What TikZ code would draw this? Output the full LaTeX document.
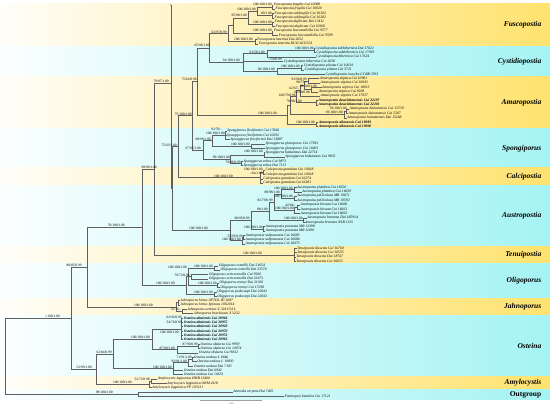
\documentclass[tikz,border=0pt]{standalone}
\usepackage{fontspec}
\setmainfont{Liberation Serif}
\usepackage{tikz}
\usetikzlibrary{arrows.meta}
\definecolor{ybar}{RGB}{255,226,110}
\definecolor{cbar}{RGB}{165,243,243}
\definecolor{brgray}{RGB}{95,95,95}
\tikzset{
  branch/.style={draw=brgray, line width=0.4pt},
  tx/.style={anchor=west, inner sep=0.4pt, font=\fontsize{3.7}{4}\selectfont\itshape},
  txb/.style={anchor=west, inner sep=0.4pt, font=\fontsize{3.7}{4}\selectfont\bfseries\itshape},
  sup/.style={anchor=base east, inner sep=0.2pt, yshift=-1.2pt, font=\fontsize{3.5}{4}\selectfont},
  clade/.style={anchor=east, inner sep=0pt, font=\fontsize{7.5}{8}\selectfont\bfseries\itshape}
}

\begin{document}
\begin{tikzpicture}[x=1pt, y=-1pt]
  \useasboundingbox (0,0) rectangle (550,407);
  % clade bands
  \foreach \a/\b/\c/\nm [count=\k] in {3.3/46.0/ybar/Fuscopostia, 46.0/76.5/cbar/Cystidiopostia,
      76.5/128.7/ybar/Amaropostia, 128.7/167.8/cbar/Spongiporus, 167.8/185.2/ybar/Calcipostia,
      185.2/246.1/cbar/Austropostia, 246.1/263.5/ybar/Tenuipostia, 263.5/298.3/cbar/Oligoporus,
      298.3/315.7/ybar/Jahnoporus, 315.7/376.6/cbar/Osteina, 376.6/389.7/ybar/Amylocystis}{
    \shade[left color=\c!4, right color=\c] (0,\a) rectangle (550,\b);
    \node[clade] (g\k) at (541.5,{(\a+\b)/2}) {\nm};
  }
  \shade[left color=cbar!4, right color=cbar] (0,389.7) rectangle (550,399.5);
  \node[clade, font=\fontsize{7.5}{8}\selectfont\bfseries] (g12) at (541.5,394.6) {Outgroup};

  % internal nodes
  \foreach \n/\x/\y in {fr/272/6.875, sf/272/15.575, fs/257/11.225, du/272.5/24.275,
      f95/247.7/17.75, le/272/32.975, fx/233/25.36, la/255/41.675, fu/228/33.52,
      sh/314/50.375, c1/266.7/53.64, pi/301/67.775, c96/277.5/71.04, c0/242.7/62.34, n65/209/47.93,
      st1/308/80.825, st2/311/89.525, st3/304/85.175, st4/300/90.61, dw/316.5/102.575,
      am1/296/96.59, h1/346/111.275, hn/344/114.54, am2/290/105.565, ai/316.5/124.325,
      am/286.7/114.945, n75a/196.7/81.44,
      fl/225.5/135.2, gl/251/146.075, s98/212/140.64, ba/264/154.775, ze/241.5/163.475,
      s99/230.5/159.125, s67/202.7/149.88, n75b/191.7/115.66,
      ca1/263.5/172.175, ca/260/177.61, n63/177.7/146.635,
      pl/294/189.575, pe/294.5/198.275, pp/281/193.925, hi1/297/206.975, hi/294.5/210.24,
      ph/274/202.08, bu/303.5/220.025, ab/269/211.05, pu/263.5/228.725, ac/251/219.89,
      sp1/243.5/237.425, sp/242/240.69, au/230/230.29, n63b/172.3/188.46,
      n79/170.7/83, tp/170.7/4.2, te/294/254.825, n98/154.3/168.91,
      ro/214.5/267.875, se/191/276.575, re/217/285.275, ros/188.5/276.575, po/214/293.975,
      ol/186/285.275, n70/141.7/227.09,
      jh/178.5/302.675, jo/182/311.375, ja/176/307.025, n80/86.7/267.06,
      al/181.5/328.775, ob1/198.5/346.175, ob/177/349.44, oa/151.7/339.11,
      un1/192.5/359.225, un2/188/362.49, un/173/368.47, os/112.7/353.79,
      ay1/151/380.975, ay/149/384.24, n52/95.7/369.015, ing/71/318.04,
      og/138/394.025, root/4.7/356.03}{
    \coordinate (\n) at (\x,\y);
  }

  % branches between internal nodes
  \foreach \p/\c in {fs/fr, fs/sf, f95/fs, f95/du, fx/f95, fx/le, fu/fx, fu/la,
      c1/sh, c96/pi, c0/c1, c0/c96, n65/fu, n65/c0,
      st3/st1, st3/st2, st4/st3, am1/st4, am1/dw, hn/h1, am2/am1, am2/hn, am/am2, am/ai,
      n75a/n65, n75a/am, s98/fl, s98/gl, s99/ba, s99/ze, s67/s98, s67/s99,
      n75b/n75a, n75b/s67, ca/ca1, n63/n75b, n63/ca,
      pp/pl, pp/pe, hi/hi1, ph/pp, ph/hi, ab/ph, ab/bu, ac/ab, ac/pu, sp/sp1,
      au/ac, au/sp, n63b/n63, n63b/au, n79/n63b, n98/n79, n98/te,
      ros/ro, ros/se, ros/re, ol/ros, ol/po, n70/n98, n70/ol,
      ja/jh, ja/jo, n80/n70, n80/ja,
      ob/ob1, oa/al, oa/ob, un2/un1, un/un2, os/oa, os/un, ay/ay1,
      n52/os, n52/ay, ing/n80, ing/n52, root/ing, root/og}{
    \draw[branch] (\p) |- (\c);
  }
  \draw[branch, -{Stealth[length=1.3pt, width=1.2pt]}] (n79) -- (tp);

  % terminals
  \foreach \i/\p/\x/\st/\nm in {
      1/fr/273.3/tx/{Fuscopostia fragilis Cui 10088}, 2/fr/275/tx/{Fuscopostia fragilis Cui 10020},
      3/sf/274/tx/{Fuscopostia subfragilis Cui 16302}, 4/sf/274/tx/{Fuscopostia subfragilis Cui 16282},
      5/du/274/tx/{Fuscopostia duplicata Dai 13411}, 6/du/275/tx/{Fuscopostia duplicata Cui 10366},
      7/le/273.3/tx/{Fuscopostia leucomallella Cui 9577}, 8/le/278.3/tx/{Fuscopostia leucomallella Cui 9599},
      9/la/256.7/tx/{Fuscopostia lateritia Dai 2652}, 10/la/258.3/tx/{Fuscopostia lateritia KUO-0211531},
      11/sh/315/tx/{Cystidiopostia subhibernica Dai 17621}, 12/sh/315.7/tx/{Cystidiopostia subhibernica Cui 17095},
      13/c1/315.7/tx/{Cystidiopostia hibernica Cui 17624}, 14/c0/283.3/tx/{Cystidiopostia hibernica Cui 2658},
      15/pi/303.3/tx/{Cystidiopostia pileata Cui 10034}, 16/pi/304/tx/{Cystidiopostia pileata Cui 5721},
      17/c96/325/tx/{Cystidiopostia inocybe LY BR 3703},
      18/st1/319.3/tx/{Amaropostia stiptica Cui 10981}, 19/st1/320/tx/{Amaropostia stiptica Cui 10043},
      20/st2/321.7/tx/{Amaropostia stiptica Cui 18013}, 21/st2/318.3/tx/{Amaropostia stiptica Cui 9268},
      22/st4/320/tx/{Amaropostia stiptica Cui 17037},
      23/dw/318/txb/{Amaropostia daweishanensis Cui 22197}, 24/dw/318/txb/{Amaropostia daweishanensis Cui 22201},
      25/h1/349/tx/{Amaropostia hainanensis Cui 13739}, 26/h1/348/tx/{Amaropostia hainanensis Cui 5367},
      27/hn/346.7/tx/{Amaropostia hainanensis Dai 15268},
      28/ai/318.3/txb/{Amaropostia ailaoensis Cui 18983}, 29/ai/318.3/txb/{Amaropostia ailaoensis Cui 19000},
      30/fl/226.7/tx/{Spongiporus floriformis Cui 17666}, 31/fl/226.5/tx/{Spongiporus floriformis Cui 10292},
      32/fl/230/tx/{Spongiporus floriformis Dai 13887},
      33/gl/265/tx/{Spongiporus gloeoporus Cui 17813}, 34/gl/265/tx/{Spongiporus gloeoporus Cui 10401},
      35/ba/265/tx/{Spongiporus balsameus Dai 22714}, 36/ba/285/tx/{Spongiporus balsameus Cui 9835},
      37/ze/243/tx/{Spongiporus zebra Cui 9873}, 38/ze/243/tx/{Spongiporus zebra Dai 7131},
      39/ca1/265/tx/{Calcipostia guttulata Cui 10028}, 40/ca1/265/tx/{Calcipostia guttulata Cui 10018},
      41/ca/262.7/tx/{Calcipostia guttulata Cui 16274}, 42/ca/262.7/tx/{Calcipostia guttulata Cui 16281},
      43/pl/296.7/tx/{Austropostia plumbea Cui 16550}, 44/pl/301.7/tx/{Austropostia plumbea Cui 16639},
      45/pe/296.7/tx/{Austropostia pelliculosa MR 10671}, 46/pe/296.7/tx/{Austropostia pelliculosa MR 10592},
      47/hi1/300/tx/{Austropostia hirsuta Cui 16660}, 48/hi1/300/tx/{Austropostia hirsuta Cui 16661},
      49/hi/300/tx/{Austropostia hirsuta Cui 16662},
      50/bu/306.7/tx/{Austropostia brunnea Dai 18591A}, 51/bu/304.5/tx/{Austropostia brunnea NLB 1135},
      52/pu/265/tx/{Austropostia punctata MR 12398}, 53/pu/265/tx/{Austropostia punctata MR 11100},
      54/sp1/245/tx/{Austropostia subpunctata Cui 16685}, 55/sp1/245/tx/{Austropostia subpunctata Cui 16686},
      56/sp/245/tx/{Austropostia subpunctata Cui 16675},
      57/te/296.7/tx/{Tenuipostia dissecta Cui 16760}, 58/te/296.7/tx/{Tenuipostia dissecta Cui 16555},
      59/te/295.7/tx/{Tenuipostia dissecta Dai 18747}, 60/te/295.7/tx/{Tenuipostia dissecta Cui 16653},
      61/ro/218.3/tx/{Oligoporus romellii Dai 21654}, 62/ro/220/tx/{Oligoporus romellii Dai 23576},
      63/se/208.3/tx/{Oligoporus sericeomollis Cui 9560}, 64/se/208.3/tx/{Oligoporus sericeomollis Dai 23473},
      65/re/219/tx/{Oligoporus rennyi Dai 21016}, 66/re/220/tx/{Oligoporus rennyi Cui 17038},
      67/po/216.7/tx/{Oligoporus podocarpi Dai 22042}, 68/po/216.7/tx/{Oligoporus podocarpi Dai 22043},
      69/jh/180/tx/{Jahnoporus hirtus AFTOL ID 1687}, 70/jh/180/tx/{Jahnoporus hirtus Spinosa 10X2014},
      71/jo/186.7/tx/{Jahnoporus oreinus X 3241/54 L}, 72/jo/193.3/tx/{Jahnoporus brachiatus X 3232},
      73/al/183.3/txb/{Osteina altaiensis Cui 20964}, 74/al/183.3/txb/{Osteina altaiensis Cui 20955},
      75/al/183.3/txb/{Osteina altaiensis Cui 20920}, 76/al/183.3/txb/{Osteina altaiensis Cui 20970},
      77/al/183.3/txb/{Osteina altaiensis Cui 20972}, 78/al/183.3/txb/{Osteina altaiensis Cui 20963},
      79/ob1/200/tx/{Osteina obducta Cui 9959}, 80/ob1/200/tx/{Osteina obducta Cui 10074},
      81/ob/198.3/tx/{Osteina obducta Cui 9832},
      82/un1/193.3/tx/{Osteina undosa L 6646}, 83/un1/196.7/tx/{Osteina undosa L 10830},
      84/un2/193.3/tx/{Osteina undosa Dai 7105},
      85/un/183.3/tx/{Osteina undosa Dai 6942}, 86/un/183.3/tx/{Osteina undosa Cui 16651},
      87/ay1/157.3/tx/{Amylocystis lapponica HHB 13400}, 88/ay1/166.7/tx/{Amylocystis lapponica OKM 4118},
      89/ay/151.7/tx/{Amylocystis lapponica FP 105131},
      90/og/232.7/tx/{Antrodia serpens Dai 7465}, 91/og/284/tx/{Fomitopsis betulina Cui 17121}}{
    \pgfmathsetmacro\yy{4.7+(\i-1)*4.35}
    \node[\st] (t\i) at (\x,\yy) {\nm};
    \draw[branch] (\p) |- (t\i.west);
  }

  % support values
  \foreach \t/\x/\y [count=\k] in {
      {100/100/1.00}/272/4.7, {100/100/1.00}/256/9, {80/1.00}/272/13.3, {95/98/1.00}/247/15.7,
      {100/100/1.00}/272/22.7, {100/100/1.00}/272/30.5, {63/97/0.99}/227/31.8, {100/100/1.00}/253/39.3,
      {65/96/1.00}/210/45.7, {100/100/1.00}/314/48.3, {91/56/1.00}/265/51.8, {-/59/0.99}/282/59.6,
      {91/100/1.00}/240/60.4, {96/100/1.00}/275/69, {100/100/1.00}/300/66,
      {79/97/1.00}/169/81, {75/62/0.96}/197/79.3, {75/100/1.00}/192/114, {75/63/1.00}/177/145,
      {98/96/1.00}/157/167, {70/100/1.00}/125/225.3, {80/85/0.99}/82/265.2, {-/100/1.00}/60/316,
      {52/99/1.00}/92/367.2, {98/100/1.00}/113/392.2,
      {93/94/0.99}/307/79, {98/75/-}/307/82.5, {98/100/1.00}/317/85.8, {62/67/-}/300/88.5,
      {65/90/0.98}/310/91.8, {100/79/0.96}/296/95, {70/98/1.00}/302/101.7, {93/100/1.00}/347/108.5,
      {93/100/1.00}/343/112.5, {100/100/1.00}/277/113, {100/100/1.00}/315/122.3,
      {92/70/-}/222/129.2, {100/100/1.00}/225/133, {98/99/1.00}/211/139, {100/100/1.00}/250/144.2,
      {100/100/1.00}/263/151, {67/95/1.00}/201/148.2, {99/100/1.00}/230/157.5, {79/96/0.99}/241/162,
      {100/100/1.00}/263/168.8, {-/64/1.00}/263/173.3, {100/100/1.00}/233/176,
      {100/100/1.00}/293/187.8, {80/98/1.00}/280/192.3, {100/100/1.00}/293/196.5, {82/79/0.99}/273/200.4,
      {42/64/-}/296/205, {100/100/1.00}/294/208.7, {98/1.00}/268/209.3, {100/100/1.00}/303/218.3,
      {98/95/0.99}/250/218.2, {100/100/1.00}/208/228.5, {100/100/1.00}/263/227, {55/95/0.99}/243/235.8,
      {100/100/1.00}/241/239,
      {100/100/1.00}/262/253.2,
      {100/100/1.00}/213/266.2, {100/100/1.00}/187/267.6, {79/72/0.98}/190/275, {100/100/1.00}/175/283.6,
      {100/100/1.00}/217/283.6, {100/100/1.00}/213/292.4,
      {100/100/1.00}/153/305.3, {55/76/-}/181.5/309.7,
      {62/92/0.99}/182/317.6, {54/76/0.99}/182/321.8, {100/100/1.00}/179/332, {100/100/1.00}/150/337.6,
      {87/90/0.99}/198/344.5, {87/99/1.00}/175/348, {62/84/0.99}/112/352.2, {71/91/1.00}/192/357.5,
      {92/91/1.00}/187/361, {100/100/1.00}/172/366.8,
      {52/72/0.98}/150/379.3, {100/100/1.00}/132/382.6}{
    \node[sup] (s\k) at (\x,\y) {\t};
  }

  % scale bar
  \coordinate (sb1) at (200,400.3);
  \coordinate (sb2) at (261.7,400.3);
  \draw[branch, draw=brgray!60] (sb1) -- (sb2);
  \node[inner sep=0pt, font=\fontsize{2.6}{3}\selectfont, text=brgray] (sbl) at (231.5,403.8) {0.05};
\end{tikzpicture}
\end{document}
